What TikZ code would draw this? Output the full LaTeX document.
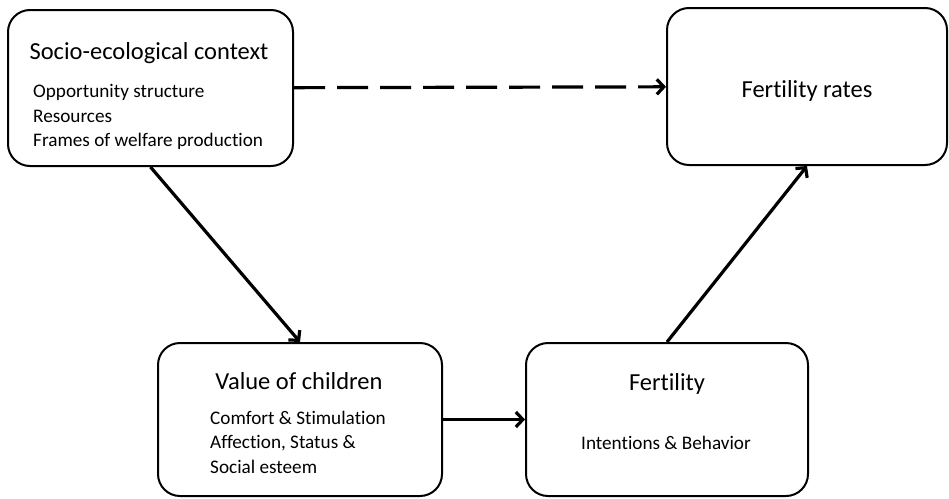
\documentclass[tikz,border=0pt]{standalone}
\usepackage{fontspec}
\setmainfont{Carlito}[Ligatures=NoCommon]
\usetikzlibrary{arrows.meta}
\begin{document}
\begin{tikzpicture}[x=1pt,y=-1pt,myb/.style={rectangle, draw, rounded corners=22pt, line width=2pt, inner sep=0pt},myt/.style={inner sep=0pt, font=\fontsize{24.5}{29}\selectfont},myi/.style={inner sep=0pt, anchor=base west, font=\fontsize{19.2}{23}\selectfont},mya/.style={line width=3.2pt, -{Straight Barb[length=7pt, width=15pt]}}]
  \useasboundingbox (0,0) rectangle (949,498);

  \node[myb, minimum width=285pt, minimum height=156pt] (ctx) at (150.5,88) {};
  \node[myb, minimum width=280pt, minimum height=157pt] (rates) at (807,86.5) {};
  \node[myb, minimum width=284pt, minimum height=153pt] (val) at (300,419.5) {};
  \node[myb, minimum width=282pt, minimum height=153pt] (fert) at (667,419.5) {};

  % texts
  \node[myt, anchor=base] (ctxt) at (149,59) {Socio-ecological context};
  \node[myi] (c1) at (33,97) {Opportunity structure};
  \node[myi] (c2) at (33,122) {Resources};
  \node[myi] (c3) at (33,146) {Frames of welfare production};

  \node[myt, anchor=base] (ratest) at (807,97) {Fertility rates};

  \node[myt, anchor=base] (valt) at (299,389) {Value of children};
  \node[myi] (v1) at (210,424) {Comfort \& Stimulation};
  \node[myi] (v2) at (210,448) {Affection, Status \&};
  \node[myi] (v3) at (210,473) {Social esteem};

  \node[myt, anchor=base] (fertt) at (667,390) {Fertility};
  \node[myi, anchor=base] (f1) at (666,449) {Intentions \& Behavior};

    \draw[mya, dash pattern=on 31pt off 12pt] (ctx) -- (rates);
    \draw[mya] (ctx.south) -- (val.north);
    \draw[mya] (val) -- (fert);
    \draw[mya] (fert.north) -- (rates.south);

\end{tikzpicture}
\end{document}
